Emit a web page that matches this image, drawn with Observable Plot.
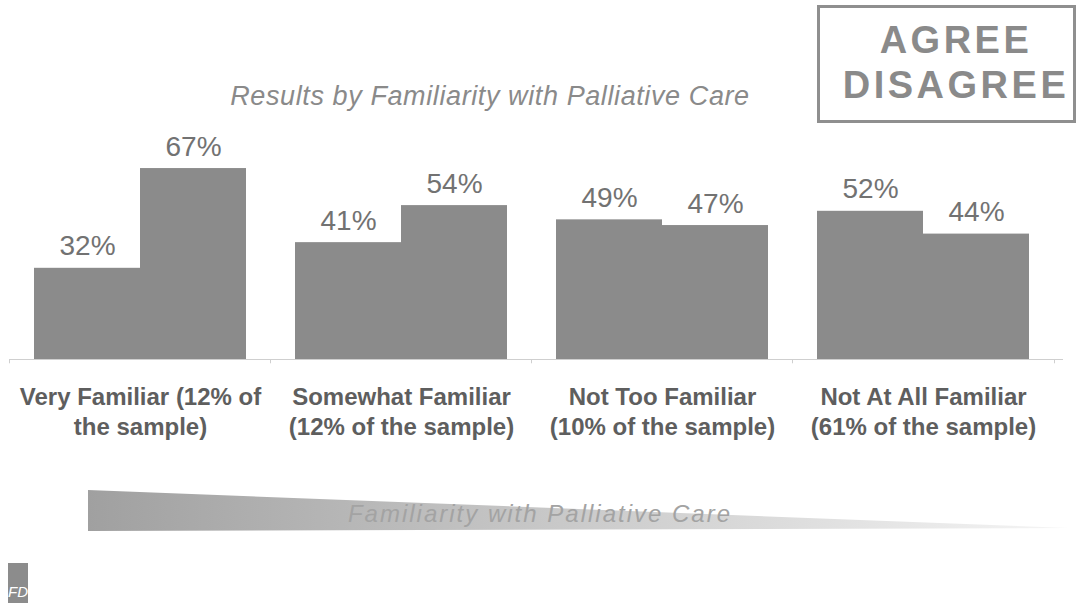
<!DOCTYPE html>
<html>
<head>
<meta charset="utf-8">
<script src="https://cdn.jsdelivr.net/npm/d3@7"></script>
<script src="https://cdn.jsdelivr.net/npm/@observablehq/plot@0.6"></script>
<style>
  html, body { margin: 0; padding: 0; background: #fff; }
  #wrap { position: relative; width: 1079px; height: 607px; overflow: hidden;
          font-family: "Liberation Sans", Arial, sans-serif; }
  #chart { position: absolute; left: 0; top: 0; }
  #deco { position: absolute; left: 0; top: 0; }
</style>
</head>
<body>
<div id="wrap">
  <div id="chart"></div>
  <svg id="deco" width="1079" height="607" xmlns="http://www.w3.org/2000/svg">
    <defs>
      <linearGradient id="wedgeGrad" x1="0" y1="0" x2="1" y2="0">
        <stop offset="0" stop-color="#a0a0a0"/>
        <stop offset="1" stop-color="#f5f5f5"/>
      </linearGradient>
    </defs>
    <text id="title" x="490" y="105" text-anchor="middle" font-size="27" font-style="italic"
          fill="#8a8a8a" style="letter-spacing:0.6px"></text>
    <rect x="818.5" y="6.5" width="256" height="115" fill="none" stroke="#8f8f8f" stroke-width="3"/>
    <text id="leg0" x="956" y="53" text-anchor="middle" font-size="38" font-weight="bold" fill="#8a8a8a" style="letter-spacing:3.5px"></text>
    <text id="leg1" x="956" y="98" text-anchor="middle" font-size="38" font-weight="bold" fill="#8a8a8a" style="letter-spacing:3.5px"></text>
    <polygon points="88,490 1068,528 88,531" fill="url(#wedgeGrad)"/>
    <text id="axisTitle" x="540" y="522" text-anchor="middle" font-size="24" font-style="italic"
          fill="#a3a3a3" style="letter-spacing:2px"></text>
    <rect x="8" y="563" width="20" height="40" fill="#8c8c8c"/>
    <text x="18" y="597" text-anchor="middle" font-size="15" font-style="italic" fill="#ffffff">FD</text>
  </svg>
</div>
<script>
// ---- data ----
const categories = ["Very Familiar", "Somewhat Familiar", "Not Too Familiar", "Not At All Familiar"];
const tickLabels = [
  "Very Familiar (12% of\nthe sample)",
  "Somewhat Familiar\n(12% of the sample)",
  "Not Too Familiar\n(10% of the sample)",
  "Not At All Familiar\n(61% of the sample)"
];
const seriesNames = ["AGREE", "DISAGREE"];
const agree = [32, 41, 49, 52];
const disagree = [67, 54, 47, 44];
const chartTitle = "Results by Familiarity with Palliative Care";
const axisTitle = "Familiarity with Palliative Care";

// ---- table ----
const agreeRows = categories.map((c, i) => ({cat: c, series: seriesNames[0], value: agree[i]}));
const disagreeRows = categories.map((c, i) => ({cat: c, series: seriesNames[1], value: disagree[i]}));

const barFill = "#8b8b8b";
const chart = Plot.plot({
  width: 1079,
  height: 450,
  marginTop: 131,
  marginBottom: 91,
  marginLeft: 10,
  marginRight: 16,
  x: {domain: categories, paddingInner: 0.189, paddingOuter: 0.105, align: 0.42, axis: null},
  y: {domain: [0, 80], axis: null},
  style: {fontFamily: "'Liberation Sans', Arial, sans-serif", background: "transparent"},
  marks: [
    Plot.ruleY([0], {stroke: "#cfcfcf", strokeWidth: 1}),
    Plot.ruleX(categories, {x: d => d, y1: 0, y2: -1.5, dx: -131, stroke: "#cfcfcf"}),
    Plot.ruleX(categories.slice(-1), {x: d => d, y1: 0, y2: -1.5, dx: 131, stroke: "#cfcfcf"}),
    Plot.barY(agreeRows, {x: "cat", y: "value", insetRight: 106, fill: barFill}),
    Plot.barY(disagreeRows, {x: "cat", y: "value", insetLeft: 106, fill: barFill}),
    Plot.text(agreeRows, {x: "cat", y: "value", text: d => d.value + "%", dx: -53, dy: -13,
      lineAnchor: "bottom", fontSize: 28, fill: "#727272"}),
    Plot.text(disagreeRows, {x: "cat", y: "value", text: d => d.value + "%", dx: 53, dy: -13,
      lineAnchor: "bottom", fontSize: 28, fill: "#727272"}),
    Plot.text(categories, {x: d => d, y: 0, text: (d, i) => tickLabels[i], lineAnchor: "top", dy: 24,
      fontSize: 24, fontWeight: "bold", lineHeight: 1.25, fill: "#5e5e5e", ariaLabel: "category-labels"})
  ]
});
d3.select(chart).selectAll("g[aria-label='category-labels'] text").style("letter-spacing", "1px");
document.getElementById("chart").appendChild(chart);

document.getElementById("title").textContent = chartTitle;
document.getElementById("leg0").textContent = seriesNames[0];
document.getElementById("leg1").textContent = seriesNames[1];
document.getElementById("axisTitle").textContent = axisTitle;
</script>
</body>
</html>
